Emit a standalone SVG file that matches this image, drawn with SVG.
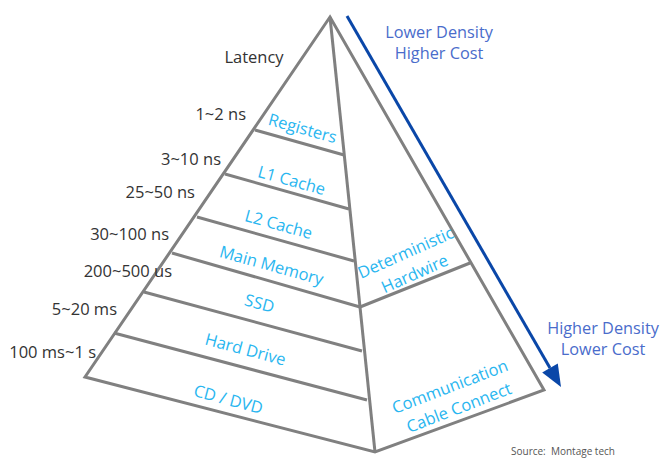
<svg xmlns="http://www.w3.org/2000/svg" width="669" height="468" viewBox="0 0 669 468">
<defs>
<style>
.ln{stroke:#808080;stroke-width:3;fill:none;stroke-linejoin:miter}
.lat{font-family:"Open Sans","Liberation Sans",sans-serif;font-size:16.5px;fill:#333333}
.lay{font-family:"Open Sans","Liberation Sans",sans-serif;font-size:16.5px;fill:#29B6F0;text-anchor:middle}
.den{font-family:"Open Sans","Liberation Sans",sans-serif;font-size:16.3px;fill:#4A6CCB;text-anchor:middle}
.src{font-family:"Open Sans","Liberation Sans",sans-serif;font-size:10px;fill:#555555}
</style>
</defs>
<rect width="669" height="468" fill="#ffffff"/>
<g id="connectors">
<path id="pyramid-outline" class="ln" d="M330,17 L85,377 L375,452 L544,390 Z"/>
<path id="center-line" class="ln" d="M330,17 L375,452"/>
<path class="ln" d="M255,130 L344,155"/>
<path class="ln" d="M225,174 L349,209"/>
<path class="ln" d="M197,217 L354,261"/>
<path class="ln" d="M172,253 L360,307"/>
<path class="ln" d="M144,292 L362,351"/>
<path class="ln" d="M114,333 L367,400"/>
<path class="ln" d="M360,307 L470,263"/>
<g id="density-arrow">
<path d="M347,16 L550,368" stroke="#0A47A8" stroke-width="3" fill="none"/>
<polygon points="561,387 542.2,372.5 557.8,363.5" fill="#0A47A8"/>
</g>
</g>
<g id="latency">
<text class="lat" x="254" y="63" text-anchor="middle">Latency</text>
<text class="lat" x="246" y="120" text-anchor="end">1~2 ns</text>
<text class="lat" x="221" y="165" text-anchor="end">3~10 ns</text>
<text class="lat" x="195" y="198" text-anchor="end">25~50 ns</text>
<text class="lat" x="169" y="240" text-anchor="end">30~100 ns</text>
<text class="lat" x="172" y="277" text-anchor="end">200~500 us</text>
<text class="lat" x="117" y="315" text-anchor="end">5~20 ms</text>
<text class="lat" x="96" y="358" text-anchor="end">100 ms~1 s</text>
</g>
<g id="registers"><text class="lay" transform="translate(301,134) rotate(15.5)">Registers</text></g>
<g id="l1-cache"><text class="lay" transform="translate(290,186) rotate(15.5)">L1 Cache</text></g>
<g id="l2-cache"><text class="lay" transform="translate(277,230) rotate(15.5)">L2 Cache</text></g>
<g id="main-memory"><text class="lay" transform="translate(270,271) rotate(15.5)">Main Memory</text></g>
<g id="ssd"><text class="lay" transform="translate(258,309) rotate(15)">SSD</text></g>
<g id="hard-drive"><text class="lay" transform="translate(244,355) rotate(15)">Hard Drive</text></g>
<g id="cd-dvd"><text class="lay" transform="translate(227,405) rotate(15)">CD / DVD</text></g>
<g id="deterministic-hardwire">
<text class="lay" transform="translate(408,258) rotate(-24)">Deterministic</text>
<text class="lay" transform="translate(417,279) rotate(-24)">Hardwire</text>
</g>
<g id="communication-cable">
<text class="lay" transform="translate(452,392) rotate(-21)">Communication</text>
<text class="lay" transform="translate(461,413) rotate(-21)">Cable Connect</text>
</g>
<g id="density-labels">
<text class="den" x="439" y="38">Lower Density</text>
<text class="den" x="439" y="59">Higher Cost</text>
<text class="den" x="603" y="334">Higher Density</text>
<text class="den" x="603" y="355">Lower Cost</text>
</g>
<text class="src" x="511" y="455" xml:space="preserve">Source:  Montage tech</text>
</svg>
